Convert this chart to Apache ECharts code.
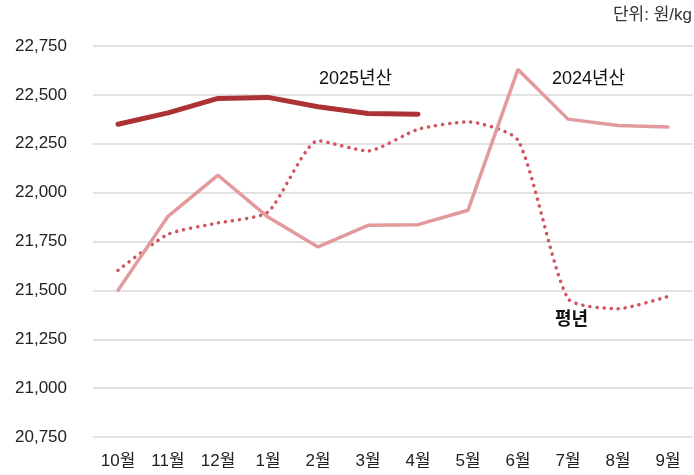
<!DOCTYPE html>
<html>
<head>
<meta charset="utf-8">
<script src="https://cdn.jsdelivr.net/npm/echarts@6/dist/echarts.min.js"></script>
<style>
  html, body { margin: 0; padding: 0; background: #fff; }
  #chart { width: 694px; height: 475px; }
</style>
</head>
<body>
<div id="chart"></div>
<script>
// 월별 데이터
var months = ['10월', '11월', '12월', '1월', '2월', '3월', '4월', '5월', '6월', '7월', '8월', '9월'];
var y2025 = [22350, 22408, 22482, 22487, 22439, 22405, 22401];
var y2024 = [21500, 21879, 22089, 21875, 21722, 21833, 21836, 21910, 22630, 22376, 22343, 22336];
var normal = [21602, 21787, 21845, 21901, 22265, 22213, 22324, 22362, 22268, 21458, 21406, 21469];

var font = '"Liberation Sans", "Noto Sans CJK KR", sans-serif';

var chart = echarts.init(document.getElementById('chart'));
chart.setOption({
    animation: false,
    textStyle: { fontFamily: font },
    grid: { left: 93, right: 1, top: 46, bottom: 38 },
    xAxis: {
        type: 'category',
        data: months,
        boundaryGap: true,
        axisLine: { show: false },
        axisTick: { show: false },
        axisLabel: { color: '#222', fontSize: 17, margin: 16, fontFamily: font }
    },
    yAxis: {
        type: 'value',
        min: 20750,
        max: 22750,
        interval: 250,
        axisLine: { show: false },
        axisTick: { show: false },
        axisLabel: {
            color: '#222', fontSize: 17, margin: 26, fontFamily: font,
            formatter: function (v) { return v.toLocaleString('en-US'); }
        },
        splitLine: { lineStyle: { color: '#d9d9d9', width: 1.5 } }
    },
    graphic: [
        { type: 'text', right: 2, top: 7, style: { text: '단위: 원/kg', fontSize: 17, fill: '#333', fontFamily: font } },
        { type: 'text', left: 319, top: 70, style: { text: '2025년산', fontSize: 18, fill: '#111', fontFamily: font } },
        { type: 'text', left: 552, top: 70, style: { text: '2024년산', fontSize: 18, fill: '#111', fontFamily: font } },
        { type: 'text', left: 555, top: 311, style: { text: '평년', fontSize: 18, fontWeight: 'bold', fill: '#111', fontFamily: font } }
    ],
    series: [
        {
            name: '평년',
            type: 'line',
            data: normal,
            smooth: 0.2,
            symbol: 'none',
            lineStyle: { color: '#d0545e', width: 3.5, type: [0.1, 7], cap: 'round' }
        },
        {
            name: '2024년산',
            type: 'line',
            data: y2024,
            symbol: 'none',
            lineStyle: { color: '#e29a9d', width: 3.5, cap: 'round' }
        },
        {
            name: '2025년산',
            type: 'line',
            data: y2025,
            symbol: 'none',
            lineStyle: { color: '#ad3236', width: 5, cap: 'round' }
        }
    ]
});
</script>
</body>
</html>
